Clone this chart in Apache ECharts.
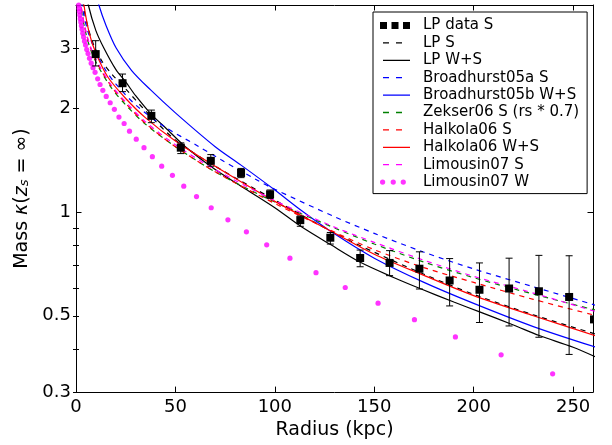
<!DOCTYPE html>
<html><head><meta charset="utf-8">
<script src="https://cdn.jsdelivr.net/npm/echarts@6/dist/echarts.min.js"></script>
<style>html,body{margin:0;padding:0;background:#fff}#c{width:612px;height:445px}</style>
</head><body><div id="c"></div>
<script>
// ---- data ----
const lpDataX  = [9.9, 23.4, 37.9, 52.7, 67.8, 83, 97.6, 112.8, 127.9, 142.9, 157.7, 172.7, 187.9, 202.9, 217.8, 232.8, 248, 260.5];
const lpDataY  = [2.88, 2.37, 1.905, 1.54, 1.41, 1.30, 1.127, 0.948, 0.843, 0.736, 0.712, 0.685, 0.633, 0.595, 0.600, 0.589, 0.567, 0.488];
const lpDataLo = [2.66, 2.24, 1.82, 1.48, 1.36, 1.26, 1.095, 0.91, 0.808, 0.694, 0.654, 0.598, 0.534, 0.478, 0.467, 0.433, 0.386, null];
const lpDataHi = [3.15, 2.52, 1.98, 1.59, 1.47, 1.34, 1.16, 0.975, 0.873, 0.776, 0.773, 0.767, 0.733, 0.712, 0.735, 0.749, 0.747, null];

const lpS = [[2,5.0],[3.7,4.0],[6,3.45],[9,3.05],[13,2.75],[18,2.52],[25,2.28],[35,1.97],[50,1.62],[70,1.36],[100,1.085],[130,0.87],[150,0.765],[175,0.66],[200,0.577],[230,0.503],[262,0.441]];
const lpWS = [[3,5.0],[6.2,4.0],[10,3.37],[14,3.0],[20,2.6],[25,2.39],[30,2.18],[38,1.92],[45,1.76],[55,1.55],[70,1.33],[85,1.17],[100,1.03],[113,0.91],[128,0.805],[143,0.715],[160,0.645],[173,0.600],[190,0.548],[203,0.513],[220,0.470],[233,0.438],[250,0.405],[262,0.378]];
const broad05aS = [[1.5,5.0],[3,4.0],[6,3.35],[10,2.92],[15,2.58],[20,2.36],[30,2.05],[44,1.78],[61,1.56],[73,1.42],[91,1.24],[100,1.165],[130,0.97],[150,0.868],[175,0.765],[200,0.684],[230,0.607],[262,0.535]];
const broad05bWS = [[7,5.0],[11.5,4.0],[15,3.5],[20.2,3.0],[28,2.58],[37.4,2.27],[50,1.944],[70,1.55],[83,1.37],[100,1.16],[113,1.015],[130,0.865],[150,0.735],[175,0.625],[200,0.543],[230,0.465],[262,0.404]];
const zekser06S = [[1.5,4.7],[2.5,3.95],[5,3.3],[8,2.9],[12,2.6],[18,2.29],[25,2.05],[35,1.80],[50,1.55],[70,1.31],[100,1.07],[130,0.90],[150,0.808],[175,0.716],[200,0.645],[230,0.578],[262,0.518]];
const halkola06S = [[1.5,4.8],[2.5,4.0],[5,3.33],[8,2.93],[12,2.62],[18,2.31],[25,2.07],[35,1.81],[50,1.55],[70,1.31],[100,1.06],[130,0.875],[150,0.778],[175,0.69],[200,0.625],[230,0.558],[262,0.500]];
const halkola06WS = [[2,5.0],[4,4.0],[6.7,3.31],[10,2.9],[16,2.47],[25,2.14],[35,1.88],[50,1.61],[70,1.36],[100,1.075],[130,0.87],[150,0.755],[175,0.655],[200,0.572],[230,0.500],[262,0.436]];
const limousin07S = [[1.5,4.8],[2.5,4.0],[5,3.35],[8,2.95],[12,2.65],[18,2.33],[25,2.09],[35,1.83],[50,1.57],[70,1.33],[100,1.08],[130,0.905],[150,0.817],[175,0.725],[200,0.651],[230,0.582],[262,0.513]];
const limousin07W = [[1.36,4.0],[1.52,3.91],[1.71,3.83],[1.92,3.74],[2.15,3.65],[2.41,3.57],[2.71,3.48],[3.04,3.40],[3.41,3.31],[3.82,3.23],[4.29,3.14],[4.81,3.06],[5.40,2.97],[6.06,2.89],[6.80,2.80],[7.63,2.71],[8.56,2.63],[9.6,2.55],[10.9,2.44],[12.1,2.35],[13.5,2.26],[15.2,2.17],[17.2,2.08],[19.3,1.99],[21.6,1.89],[24.2,1.81],[26.9,1.72],[30.3,1.63],[34.2,1.54],[38.4,1.45],[43.1,1.36],[48.5,1.28],[54.2,1.19],[60.6,1.11],[68.0,1.03],[76.4,0.95],[85.7,0.877],[95.9,0.804],[107.6,0.735],[120.7,0.667],[135.4,0.604],[151.9,0.544],[170.2,0.487],[190.8,0.434],[213.8,0.385],[239.7,0.339]];

const xTicks = [0, 50, 100, 150, 200, 250];
const yLabels = [0.3, 0.5, 1, 2, 3];
const yMajor = [1];
const yMinor = [0.3, 0.4, 0.5, 0.6, 0.7, 0.8, 0.9, 2, 3];

// ---- chart ----
const FONT = 'DejaVu Sans';
const chart = echarts.init(document.getElementById('c'), null, {renderer: 'canvas'});
const lpData = lpDataX.map((x, i) => [x, lpDataY[i], lpDataLo[i], lpDataHi[i]]);

const squaresIcon = 'path://M0,0h7v7h-7zM11.5,0h7v7h-7zM23,0h7v7h-7z';
const dotsIcon = 'path://M0.1,2.6a2.6,2.6 0 1,0 5.2,0a2.6,2.6 0 1,0 -5.2,0zM10.7,2.6a2.6,2.6 0 1,0 5.2,0a2.6,2.6 0 1,0 -5.2,0zM20.7,2.6a2.6,2.6 0 1,0 5.2,0a2.6,2.6 0 1,0 -5.2,0zM29.98,2.6h0.02v0.01h-0.02z';
const solidIcon = 'path://M0,0h0.01v0.01h-0.01zM3,0h27v1.3h-27z';
const dashIcon = 'path://M0,0h0.01v0.01h-0.01zM3,0h6v1.3h-6zM16,0h6v1.3h-6zM29.99,0h0.01v0.01h-0.01z';

const line = (name, data, color, dashed) => ({
  name, type: 'line', data, xAxisIndex: 0, yAxisIndex: 0,
  symbol: 'none', showSymbol: false, smooth: 0.3, clip: true,
  lineStyle: {color, width: 1.2, type: dashed ? [5, 5] : 'solid'},
  itemStyle: {color}, z: 2, silent: true
});

const yBase = {type: 'log', logBase: 10, min: 0.3, max: 4,
  splitLine: {show: false}, axisLabel: {show: false}, axisLine: {show: false}, axisTick: {show: false}};
const tickStyle = {color: '#000', width: 1};

chart.setOption({
  animation: false,
  backgroundColor: '#fff',
  grid: {left: 76, right: 19, top: 5, bottom: 52, containLabel: false},
  xAxis: [
    {type: 'value', min: 0, max: 260, position: 'bottom',
     axisLine: {show: true, onZero: false, lineStyle: tickStyle},
     axisTick: {show: true, inside: true, length: 5.5, customValues: xTicks, lineStyle: tickStyle},
     axisLabel: {show: true, customValues: xTicks, fontSize: 18, color: '#000', fontFamily: FONT, margin: 6},
     splitLine: {show: false},
     name: 'Radius (kpc)', nameLocation: 'middle', nameGap: 25,
     nameTextStyle: {fontSize: 19, color: '#000', fontFamily: FONT}},
    {type: 'value', min: 0, max: 260, position: 'top',
     axisLine: {show: true, onZero: false, lineStyle: tickStyle},
     axisTick: {show: true, inside: true, length: 5.5, customValues: xTicks, lineStyle: tickStyle},
     axisLabel: {show: false}, splitLine: {show: false}}
  ],
  yAxis: [
    Object.assign({}, yBase, {position: 'left',
      axisLine: {show: true, onZero: false, lineStyle: tickStyle},
      axisTick: {show: true, inside: true, length: 5.5, customValues: yMajor, lineStyle: tickStyle},
      axisLabel: {show: true, customValues: yLabels, fontSize: 18, color: '#000', fontFamily: FONT, margin: 5},
      name: '{n|Mass }{i|κ}{n|(}{i|z}{s|s}{n| = ∞)}', nameLocation: 'middle', nameGap: 36,
      nameTextStyle: {fontSize: 19, color: '#000', fontFamily: FONT,
        rich: {n: {fontSize: 19, fontFamily: FONT, color: '#000'},
               i: {fontSize: 19, fontFamily: FONT, fontStyle: 'italic', color: '#000'},
               s: {fontSize: 13, fontFamily: FONT, fontStyle: 'italic', color: '#000', verticalAlign: 'bottom'}}}}),
    Object.assign({}, yBase, {position: 'left',
      axisTick: {show: true, inside: true, length: 3, customValues: yMinor, lineStyle: tickStyle}}),
    Object.assign({}, yBase, {position: 'right',
      axisLine: {show: true, onZero: false, lineStyle: tickStyle},
      axisTick: {show: true, inside: true, length: 5.5, customValues: yMajor, lineStyle: tickStyle}}),
    Object.assign({}, yBase, {position: 'right',
      axisTick: {show: true, inside: true, length: 3, customValues: yMinor, lineStyle: tickStyle}})
  ],
  legend: {
    orient: 'vertical', left: 373, top: 12,
    padding: [6, 8, 4, 7],
    itemWidth: 30, itemHeight: 14, itemGap: 2.4,
    borderColor: '#000', borderWidth: 1, borderRadius: 0, backgroundColor: '#fff',
    selectedMode: false,
    textStyle: {fontSize: 15, color: '#000', fontFamily: FONT, lineHeight: 14, padding: [0, 0, 0, 8]},
    data: [
      {name: 'LP data S', icon: squaresIcon},
      {name: 'LP S', icon: dashIcon},
      {name: 'LP W+S', icon: solidIcon},
      {name: 'Broadhurst05a S', icon: dashIcon},
      {name: 'Broadhurst05b W+S', icon: solidIcon},
      {name: 'Zekser06 S (rs * 0.7)', icon: dashIcon},
      {name: 'Halkola06 S', icon: dashIcon},
      {name: 'Halkola06 W+S', icon: solidIcon},
      {name: 'Limousin07 S', icon: dashIcon},
      {name: 'Limousin07 W', icon: dotsIcon}
    ]
  },
  series: [
    {name: 'LP data S', type: 'custom', data: lpData, xAxisIndex: 0, yAxisIndex: 0,
     encode: {x: 0, y: 1}, clip: true, z: 5, silent: true,
     itemStyle: {color: '#000'},
     renderItem: function (params, api) {
       const x = api.value(0), y = api.value(1), lo = api.value(2), hi = api.value(3);
       const c = api.coord([x, y]);
       const children = [];
       if (isFinite(lo) && isFinite(hi) && lo > 0 && hi > 0) {
         const pl = api.coord([x, lo]), ph = api.coord([x, hi]);
         children.push({type: 'line', shape: {x1: c[0], y1: pl[1], x2: c[0], y2: ph[1]}, style: {stroke: '#000', lineWidth: 1}});
         children.push({type: 'line', shape: {x1: c[0] - 3.5, y1: pl[1], x2: c[0] + 3.5, y2: pl[1]}, style: {stroke: '#000', lineWidth: 1}});
         children.push({type: 'line', shape: {x1: c[0] - 3.5, y1: ph[1], x2: c[0] + 3.5, y2: ph[1]}, style: {stroke: '#000', lineWidth: 1}});
       }
       children.push({type: 'rect', shape: {x: c[0] - 4, y: c[1] - 4, width: 8, height: 8}, style: {fill: '#000'}});
       return {type: 'group', children};
     }},
    line('LP S', lpS, '#000000', true),
    line('LP W+S', lpWS, '#000000', false),
    line('Broadhurst05a S', broad05aS, '#0000ff', true),
    line('Broadhurst05b W+S', broad05bWS, '#0000ff', false),
    line('Zekser06 S (rs * 0.7)', zekser06S, '#008000', true),
    line('Halkola06 S', halkola06S, '#ff0000', true),
    line('Halkola06 W+S', halkola06WS, '#ff0000', false),
    line('Limousin07 S', limousin07S, '#ff00ff', true),
    {name: 'Limousin07 W', type: 'scatter', data: limousin07W, xAxisIndex: 0, yAxisIndex: 0,
     symbol: 'circle', symbolSize: 5.2, clip: true, silent: true,
     itemStyle: {color: '#ff00ff'}, z: 3}
  ]
});
</script>
</body></html>
